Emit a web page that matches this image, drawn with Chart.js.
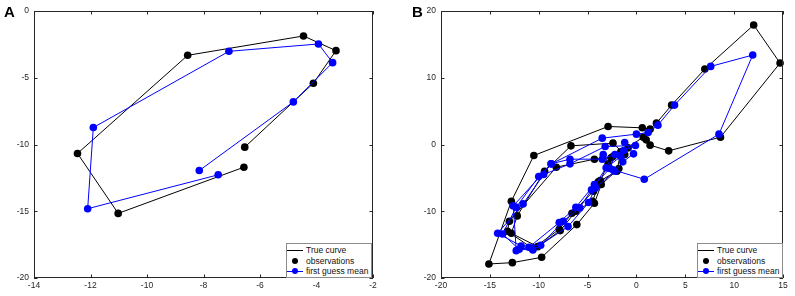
<!DOCTYPE html>
<html>
<head>
<meta charset="utf-8">
<script src="https://cdn.jsdelivr.net/npm/chart.js@4/dist/chart.umd.min.js"></script>
<style>
  html,body{margin:0;padding:0;background:#fff;}
  #wrap{position:relative;width:795px;height:296px;overflow:hidden;font-family:"Liberation Sans",Arial,Helvetica,sans-serif;}
  canvas{position:absolute;top:0;}
  .letter{position:absolute;font-weight:bold;font-size:15px;color:#000;}
  .legend{position:absolute;background:#fff;border:1px solid #8c8c8c;font-size:8.5px;color:#111;}
  .row{position:absolute;left:0;height:10px;line-height:10px;white-space:nowrap;}
  .sample{position:absolute;top:0;width:16px;height:10px;}
  .sample .ln{position:absolute;left:0;right:0;top:5px;height:1px;}
  .sample .dt{position:absolute;left:5px;top:2px;width:6px;height:6px;border-radius:50%;}
  .row .tx{position:absolute;left:19px;top:0;}
</style>
</head>
<body>
<div id="wrap">
  <canvas id="cA" width="400" height="296" style="left:0"></canvas>
  <canvas id="cB" width="395" height="296" style="left:400px"></canvas>
  <div class="letter" style="left:4px;top:3px">A</div>
  <div class="letter" style="left:412px;top:3px">B</div>
  <div class="legend" style="left:286px;top:243px;width:84px;height:33px">
    <div class="row" style="top:1px"><div class="sample"><div class="ln" style="background:#000"></div></div><span class="tx">True curve</span></div>
    <div class="row" style="top:12px"><div class="sample"><div class="dt" style="background:#000"></div></div><span class="tx">observations</span></div>
    <div class="row" style="top:22px"><div class="sample"><div class="ln" style="background:#0000ff"></div><div class="dt" style="background:#0000ff"></div></div><span class="tx">first guess mean</span></div>
  </div>
  <div class="legend" style="left:697px;top:243px;width:84px;height:33px">
    <div class="row" style="top:1px"><div class="sample"><div class="ln" style="background:#000"></div></div><span class="tx">True curve</span></div>
    <div class="row" style="top:12px"><div class="sample"><div class="dt" style="background:#000"></div></div><span class="tx">observations</span></div>
    <div class="row" style="top:22px"><div class="sample"><div class="ln" style="background:#0000ff"></div><div class="dt" style="background:#0000ff"></div></div><span class="tx">first guess mean</span></div>
  </div>
</div>
<script>
// ---------- Panel A data ----------
const obsAx   = [-6.57, -11.02, -12.46, -8.56, -4.46, -3.31, -4.11, -6.54];
const obsAy   = [-11.70, -15.16, -10.67, -3.32, -1.87, -2.97, -5.41, -10.20];
const guessAx = [-7.48, -12.10, -11.90, -7.10, -3.93, -3.43, -4.82, -8.15];
const guessAy = [-12.27, -14.81, -8.73, -3.02, -2.47, -3.87, -6.81, -11.95];
const ticksAx = [-14, -12, -10, -8, -6, -4, -2];
const ticksAy = [-20, -15, -10, -5, 0];

// ---------- Panel B data ----------
const obsBx = [-0.85, -2.4, -2.9, -3.7, -4.5, -6.2, -7.8, -10.1, -12.8, -12.2, -9.4, -6.7, -2.4, -1.2, -1.8, -3.6, -4.3, -6.1, -9.7, -12.7, -15.1, -12.8, -10.5, -2.9, 0.6, 1.4, 2.05, 3.6, 7.0, 12.0, 14.7, 8.6, 3.3, 1.4, 1.0, 0.7, -1.6, -2.0, -3.9, -4.4, -6.6, -7.9, -10.6, -13.2, -13.0, -8.2, -4.3, -2.6];
const obsBy = [-0.5, -1.8, -2.9, -5.4, -8.5, -10.0, -12.9, -15.3, -13.3, -10.7, -4.0, -0.2, 0.2, -1.5, -3.6, -6.0, -8.8, -12.0, -16.9, -17.7, -17.9, -8.5, -1.65, 2.7, 2.5, 2.3, 3.2, 5.9, 11.3, 17.9, 12.2, 1.1, -0.95, -0.1, 0.7, 1.1, -1.1, -4.0, -5.6, -7.0, -10.3, -12.7, -15.6, -13.0, -11.5, -3.4, -2.2, -2.0];
const guessBx = [-1.2, -0.3, -1.4, -2.2, -4.2, -4.9, -7.0, -10.6, -12.0, -13.7, -12.3, -10.0, -8.75, -6.8, -3.5, -1.3, -1.6, -3.1, -4.6, -5.8, -7.5, -9.8, -11.8, -14.2, -11.6, -9.5, -6.8, -3.2, -0.1, -2.2, -2.7, -4.3, -6.2, -7.9, -11.0, -12.3, -12.6, -8.7, -3.5, 0.0, 1.2, 2.2, 3.9, 7.6, 11.9, 8.45, 0.8, -2.4, -3.4];
const guessBy = [0.3, -1.4, -2.6, -4.0, -6.5, -8.7, -12.3, -15.8, -15.7, -13.4, -9.4, -4.8, -2.9, -2.2, -2.2, -0.9, -1.8, -3.5, -6.8, -9.5, -11.5, -15.1, -15.2, -13.3, -8.9, -4.5, -2.9, -0.3, -0.15, -1.5, -3.6, -6.0, -9.4, -11.7, -15.4, -15.9, -9.2, -2.9, 0.95, 1.55, 1.8, 2.9, 5.9, 11.7, 13.4, 1.55, -5.2, -3.8, -1.5];
const ticksBx = [-20, -15, -10, -5, 0, 5, 10, 15];
const ticksBy = [-20, -10, 0, 10, 20];

const toPts = (xs, ys) => xs.map((v, i) => ({x: v, y: ys[i]}));

const framePlugin = {
  id: 'frame',
  afterDraw(chart) {
    const {ctx, chartArea: {left, right, top, bottom}, scales: {x, y}} = chart;
    ctx.save();
    ctx.strokeStyle = '#262626';
    ctx.lineWidth = 1;
    ctx.strokeRect(Math.round(left) + 0.5, Math.round(top) + 0.5, Math.round(right - left) - 1, Math.round(bottom - top) - 1);
    const L = 3.5;
    ctx.beginPath();
    x.ticks.forEach(t => {
      const px = Math.round(x.getPixelForValue(t.value)) + 0.5;
      ctx.moveTo(px, bottom); ctx.lineTo(px, bottom - L);
      ctx.moveTo(px, top); ctx.lineTo(px, top + L);
    });
    y.ticks.forEach(t => {
      const py = Math.round(y.getPixelForValue(t.value)) + 0.5;
      ctx.moveTo(left, py); ctx.lineTo(left + L, py);
      ctx.moveTo(right, py); ctx.lineTo(right - L, py);
    });
    ctx.stroke();
    ctx.restore();
  }
};

function makeChart(id, ox, oy, gx, gy, tx, ty, yAxisWidth, rightPad) {
  const font = {family: '"Liberation Sans", Arial, Helvetica, sans-serif', size: 8.5};
  return new Chart(document.getElementById(id), {
    type: 'scatter',
    data: {
      datasets: [
        {label: 'first guess mean', data: toPts(gx, gy), showLine: true, borderColor: '#0000ff', backgroundColor: '#0000ff',
         borderWidth: 1, pointRadius: 3.8, pointBorderWidth: 0, order: 0, clip: false},
        {label: 'observations', data: toPts(ox, oy), showLine: false, backgroundColor: '#000', borderColor: '#000',
         pointRadius: 3.8, pointBorderWidth: 0, order: 1, clip: false},
        {label: 'True curve', data: toPts(ox, oy), showLine: true, borderColor: '#000', borderWidth: 1,
         pointRadius: 0, order: 2, clip: false}
      ]
    },
    options: {
      responsive: false,
      animation: false,
      events: [],
      layout: {padding: {top: 11, right: rightPad, left: 0, bottom: 0}},
      plugins: {legend: {display: false}, tooltip: {enabled: false}},
      scales: {
        x: {
          type: 'linear', min: tx[0], max: tx[tx.length - 1],
          afterBuildTicks: s => { s.ticks = tx.map(v => ({value: v})); },
          ticks: {font, color: '#262626', padding: 3, maxRotation: 0},
          grid: {display: false, drawTicks: false},
          border: {display: false},
          afterFit: s => { s.height = 18; }
        },
        y: {
          type: 'linear', min: ty[0], max: ty[ty.length - 1],
          afterBuildTicks: s => { s.ticks = ty.map(v => ({value: v})); },
          ticks: {font, color: '#262626', padding: 5},
          grid: {display: false, drawTicks: false},
          border: {display: false},
          afterFit: s => { s.width = yAxisWidth; }
        }
      }
    },
    plugins: [framePlugin]
  });
}

makeChart('cA', obsAx, obsAy, guessAx, guessAy, ticksAx, ticksAy, 34, 27);
makeChart('cB', obsBx, obsBy, guessBx, guessBy, ticksBx, ticksBy, 41, 12);
</script>
</body>
</html>
